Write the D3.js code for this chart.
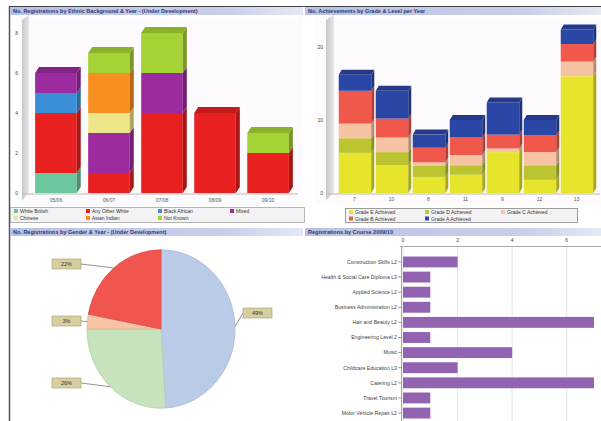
<!DOCTYPE html>
<html>
<head>
<meta charset="utf-8">
<script src="https://cdn.jsdelivr.net/npm/d3@7"></script>
<style>
  body { margin: 0; background: #fff; }
  svg { display: block; font-family: "Liberation Sans", Arial, sans-serif; }
</style>
</head>
<body>
<div id="viz-container"></div>
<script>
// ---- top left: registrations by ethnic background & year
const yearCats = ["05/06", "06/07", "07/08", "08/09", "09/10"];
const ethnicNames = ["White British", "Any Other White", "Black African", "Mixed", "Chinese", "Asian Indian", "Not Known"];
const ethnicColors = ["#6cc79c", "#e8201f", "#3b8fd9", "#9b2b9f", "#eee58a", "#f7901e", "#a5d235"];
const whiteBritish = [1, 0, 0, 0, 0];
const otherWhite = [3, 1, 4, 4, 2];
const blackAfrican = [1, 0, 0, 0, 0];
const mixed = [1, 2, 2, 0, 0];
const chinese = [0, 1, 0, 0, 0];
const asianIndian = [0, 2, 0, 0, 0];
const notKnown = [0, 1, 2, 0, 1];
const leftTicks = [0, 2, 4, 6, 8];

// ---- top right: achievement by grade and level
const levelCats = ["7", "10", "8", "11", "9", "12", "13"];
const gradeNames = ["Grade E", "Grade D", "Grade C", "Grade B", "Grade A"];
const gradeColors = ["#e6e52c", "#bcc52f", "#f6c3a3", "#f0584c", "#2b47a6"];
const gradeE = [5.5, 3.8, 2.2, 2.5, 5.6, 1.8, 16];
const gradeD = [2, 1.8, 1.5, 1.3, 0, 2, 0];
const gradeC = [2, 2, 0.5, 1.4, 0.5, 1.8, 2];
const gradeB = [4.5, 2.6, 2, 2.4, 1.9, 2.3, 2.4];
const gradeA = [2.2, 3.8, 1.8, 2.4, 4.4, 2.1, 2];
const rightTicks = [0, 10, 20];

// ---- bottom left: pie
const pieNames = ["Female", "Male", "Unknown", "Withdrawn"];
const pieValues = [49, 26, 3, 22];
const pieColors = ["#b9cbe6", "#c6e3be", "#f7c5a6", "#f0564f"];

// ---- bottom right: courses
const courseNames = ["Construction Skills L2", "Health & Social Care Diploma L3", "Applied Science L2",
  "Business Administration L2", "Hair and Beauty L2", "Engineering Level 2", "Music",
  "Childcare Education L3", "Catering L2", "Travel Tourism", "Motor Vehicle Repair L2"];
const courseCounts = [2, 1, 1, 1, 7, 1, 4, 2, 7, 1, 1];
const courseTicks = [0, 2, 4, 6];

let svg = d3.select("#viz-container")
  .append("svg")
    .attr("width", 601)
    .attr("height", 421);

let defs = svg.append("defs");
let tg = defs.append("linearGradient").attr("id", "titleGrad");
tg.append("stop").attr("offset", "0%").attr("stop-color", "#b9c2e2");
tg.append("stop").attr("offset", "75%").attr("stop-color", "#c9d0ea");
tg.append("stop").attr("offset", "100%").attr("stop-color", "#e6e9f4");
let wg = defs.append("linearGradient").attr("id", "wallGrad");
wg.append("stop").attr("offset", "0%").attr("stop-color", "#c8c8cc");
wg.append("stop").attr("offset", "100%").attr("stop-color", "#e8e8ea");

// frame
svg.append("line").attr("x1", 9.5).attr("x2", 9.5).attr("y1", 6).attr("y2", 421)
  .attr("stroke", "#555").attr("stroke-width", 1.5);
svg.append("line").attr("x1", 9).attr("x2", 601).attr("y1", 6.5).attr("y2", 6.5)
  .attr("stroke", "#444").attr("stroke-width", 1);

function titleBar(x, y, w, txt) {
  svg.append("rect").attr("x", x).attr("y", y).attr("width", w).attr("height", 8)
    .attr("fill", "url(#titleGrad)");
  svg.append("text").attr("x", x + 3).attr("y", y + 6)
    .attr("font-size", 5.5).attr("font-weight", "bold").attr("fill", "#2b3a78")
    .text(txt);
}
titleBar(10, 7, 293, "No. Registrations by Ethnic Background & Year  -  (Under Development)");
titleBar(305, 7, 296, "No. Achievements by Grade & Level per Year");
titleBar(10, 228, 293, "No. Registrations by Gender & Year - (Under Development)");
titleBar(305, 228, 296, "Registrations by Course 2009/10");

// 3D stacked bars helper
function bars3D(g, series, x, y, colors, dx, dy) {
  let n = series[0].length;
  series.forEach((s, si) => {
    s.forEach((d, i) => {
      if (d[1] - d[0] <= 0) return;
      let x0 = x(d.data.cat), w = x.bandwidth();
      let yt = y(d[1]), yb = y(d[0]);
      let c = colors[si];
      let dark = d3.color(c).darker(0.9);
      g.append("rect").attr("x", x0).attr("y", yt).attr("width", w - dx).attr("height", yb - yt)
        .attr("fill", c);
      g.append("polygon")
        .attr("points", [[x0 + w - dx, yt], [x0 + w, yt - dy], [x0 + w, yb - dy], [x0 + w - dx, yb]].join(" "))
        .attr("fill", dark);
      // cap on top-most non-empty segment
      let above = series.slice(si + 1).some(t => t[i][1] - t[i][0] > 0);
      if (!above) {
        g.append("polygon")
          .attr("points", [[x0, yt], [x0 + dx, yt - dy], [x0 + w, yt - dy], [x0 + w - dx, yt]].join(" "))
          .attr("fill", d3.color(c).darker(0.5));
      }
    });
  });
}

// ---------------- top left chart
{
  let g = svg.append("g");
  g.append("rect").attr("x", 20).attr("y", 17).attr("width", 283).attr("height", 188).attr("fill", "#fdfbfd");
  let x = d3.scaleBand().domain(yearCats).range([33, 295]).paddingInner(0.14).paddingOuter(0.04);
  let y = d3.scaleLinear().domain([0, 8]).range([193, 33]);
  // side wall
  g.append("polygon").attr("points", [[22, 200], [22, 20], [29, 15], [29, 193]].join(" "))
    .attr("fill", "url(#wallGrad)");
  g.append("line").attr("x1", 22).attr("x2", 298).attr("y1", 194).attr("y2", 194)
    .attr("stroke", "#bbb").attr("stroke-width", 1);
  leftTicks.forEach(t => {
    g.append("text").attr("x", 18).attr("y", y(t) + 2).attr("text-anchor", "end")
      .attr("font-size", 5).attr("fill", "#444").text(t);
  });
  let table = yearCats.map((c, i) => ({
    cat: c, s0: whiteBritish[i], s1: otherWhite[i], s2: blackAfrican[i], s3: mixed[i],
    s4: chinese[i], s5: asianIndian[i], s6: notKnown[i]
  }));
  let stacked = d3.stack().keys(["s0", "s1", "s2", "s3", "s4", "s5", "s6"])(table);
  bars3D(g, stacked, x, y, ethnicColors, 4, 6);
  yearCats.forEach(c => {
    g.append("text").attr("x", x(c) + x.bandwidth() / 2 - 2).attr("y", 202).attr("text-anchor", "middle")
      .attr("font-size", 5).attr("fill", "#555").text(c);
  });
  // legend
  g.append("rect").attr("x", 10.5).attr("y", 207.5).attr("width", 294).attr("height", 15)
    .attr("fill", "#f3f3f5").attr("stroke", "#999").attr("stroke-width", 0.7);
  ethnicNames.forEach((nm, i) => {
    let row = i < 4 ? 0 : 1, col = i < 4 ? i : i - 4;
    let lx = 14 + col * 72, ly = 213 + row * 7;
    g.append("rect").attr("x", lx).attr("y", ly - 4).attr("width", 4).attr("height", 4).attr("fill", ethnicColors[i]);
    g.append("text").attr("x", lx + 6).attr("y", ly).attr("font-size", 5).attr("fill", "#333").text(nm);
  });
}

// ---------------- top right chart
{
  let g = svg.append("g");
  g.append("rect").attr("x", 315).attr("y", 17).attr("width", 286).attr("height", 188).attr("fill", "#fdfbfd");
  let x = d3.scaleBand().domain(levelCats).range([338, 597]).paddingInner(0.04).paddingOuter(0.02);
  let y = d3.scaleLinear().domain([0, 20]).range([193, 47]);
  g.append("polygon").attr("points", [[326, 200], [326, 20], [334, 15], [334, 193]].join(" "))
    .attr("fill", "url(#wallGrad)");
  g.append("line").attr("x1", 326).attr("x2", 600).attr("y1", 194).attr("y2", 194)
    .attr("stroke", "#bbb").attr("stroke-width", 1);
  rightTicks.forEach(t => {
    g.append("text").attr("x", 323).attr("y", y(t) + 2).attr("text-anchor", "end")
      .attr("font-size", 5).attr("fill", "#444").text(t);
  });
  let table = levelCats.map((c, i) => ({
    cat: c, e: gradeE[i], d: gradeD[i], c: gradeC[i], b: gradeB[i], a: gradeA[i]
  }));
  let stacked = d3.stack().keys(["e", "d", "c", "b", "a"])(table);
  bars3D(g, stacked, x, y, gradeColors, 3, 5);
  levelCats.forEach(c => {
    g.append("text").attr("x", x(c) + x.bandwidth() / 2 - 2).attr("y", 201).attr("text-anchor", "middle")
      .attr("font-size", 5).attr("fill", "#555").text(c);
  });
  g.append("rect").attr("x", 345.5).attr("y", 208.5).attr("width", 232).attr("height", 14)
    .attr("fill", "#f3f3f5").attr("stroke", "#888").attr("stroke-width", 0.8);
  gradeNames.forEach((nm, i) => {
    let row = i < 3 ? 0 : 1, col = i < 3 ? i : i - 3;
    let lx = 349 + col * 76, ly = 214 + row * 6.5;
    g.append("rect").attr("x", lx).attr("y", ly - 4).attr("width", 4).attr("height", 4).attr("fill", gradeColors[i]);
    g.append("text").attr("x", lx + 6).attr("y", ly).attr("font-size", 5).attr("fill", "#333").text(nm + " Achieved");
  });
}

// ---------------- bottom left pie
{
  let cx = 161, cy = 329, r = 74, sy = 1.07;
  let g = svg.append("g").attr("transform", `translate(${cx},${cy}) scale(1,${sy})`);
  let pie = d3.pie().sort(null).value(d => d)(pieValues);
  let arc = d3.arc().innerRadius(0).outerRadius(r);
  g.selectAll("path").data(pie).enter().append("path")
    .attr("d", arc)
    .attr("fill", (d, i) => pieColors[i])
    .attr("stroke", (d, i) => d3.color(pieColors[i]).darker(0.25))
    .attr("stroke-width", 0.8);
  let total = d3.sum(pieValues);
  let boxPos = [[243, 313], [52, 383], [52, 321], [52, 264]];
  pie.forEach((d, i) => {
    let a = (d.startAngle + d.endAngle) / 2;
    let px = cx + Math.sin(a) * r, py = cy - Math.cos(a) * r * sy;
    let [bx, by] = boxPos[i];
    let ex = i === 0 ? bx : bx + 29;
    svg.append("line").attr("x1", px).attr("y1", py).attr("x2", ex).attr("y2", by)
      .attr("stroke", "#777").attr("stroke-width", 0.8);
    svg.append("rect").attr("x", bx).attr("y", by - 5).attr("width", 29).attr("height", 10)
      .attr("fill", "#d7cf9f").attr("stroke", "#a59d70").attr("stroke-width", 0.6);
    svg.append("text").attr("x", bx + 14.5).attr("y", by + 2).attr("text-anchor", "middle")
      .attr("font-size", 5.5).attr("fill", "#333")
      .text(Math.round(pieValues[i] / total * 100) + "%");
  });
}

// ---------------- bottom right horizontal bars
{
  let g = svg.append("g");
  let x = d3.scaleLinear().domain([0, 7]).range([403, 594]);
  let y = d3.scaleBand().domain(courseNames).range([255, 420]).paddingInner(0.28).paddingOuter(0.1);
  courseTicks.forEach(t => {
    g.append("line").attr("x1", x(t)).attr("x2", x(t)).attr("y1", 246).attr("y2", 421)
      .attr("stroke", "#e4e4ea").attr("stroke-width", 1);
    g.append("text").attr("x", x(t)).attr("y", 242).attr("text-anchor", "middle")
      .attr("font-size", 5).attr("fill", "#444").text(t);
  });
  g.append("line").attr("x1", 400).attr("x2", 601).attr("y1", 246.5).attr("y2", 246.5)
    .attr("stroke", "#aaa").attr("stroke-width", 1);
  g.append("line").attr("x1", 401.5).attr("x2", 401.5).attr("y1", 246).attr("y2", 421)
    .attr("stroke", "#aaa").attr("stroke-width", 1);
  g.selectAll(".bar").data(courseCounts).enter().append("rect")
    .attr("class", "bar")
    .attr("x", x(0))
    .attr("y", (d, i) => y(courseNames[i]))
    .attr("width", d => x(d) - x(0))
    .attr("height", y.bandwidth())
    .attr("fill", "#9163b1");
  courseNames.forEach(nm => {
    let yy = y(nm) + y.bandwidth() / 2;
    g.append("line").attr("x1", 398).attr("x2", 402).attr("y1", yy).attr("y2", yy)
      .attr("stroke", "#777").attr("stroke-width", 0.7);
    g.append("text").attr("x", 397).attr("y", yy + 1.8).attr("text-anchor", "end")
      .attr("font-size", 5.2).attr("fill", "#444").text(nm);
  });
}
</script>
</body>
</html>
